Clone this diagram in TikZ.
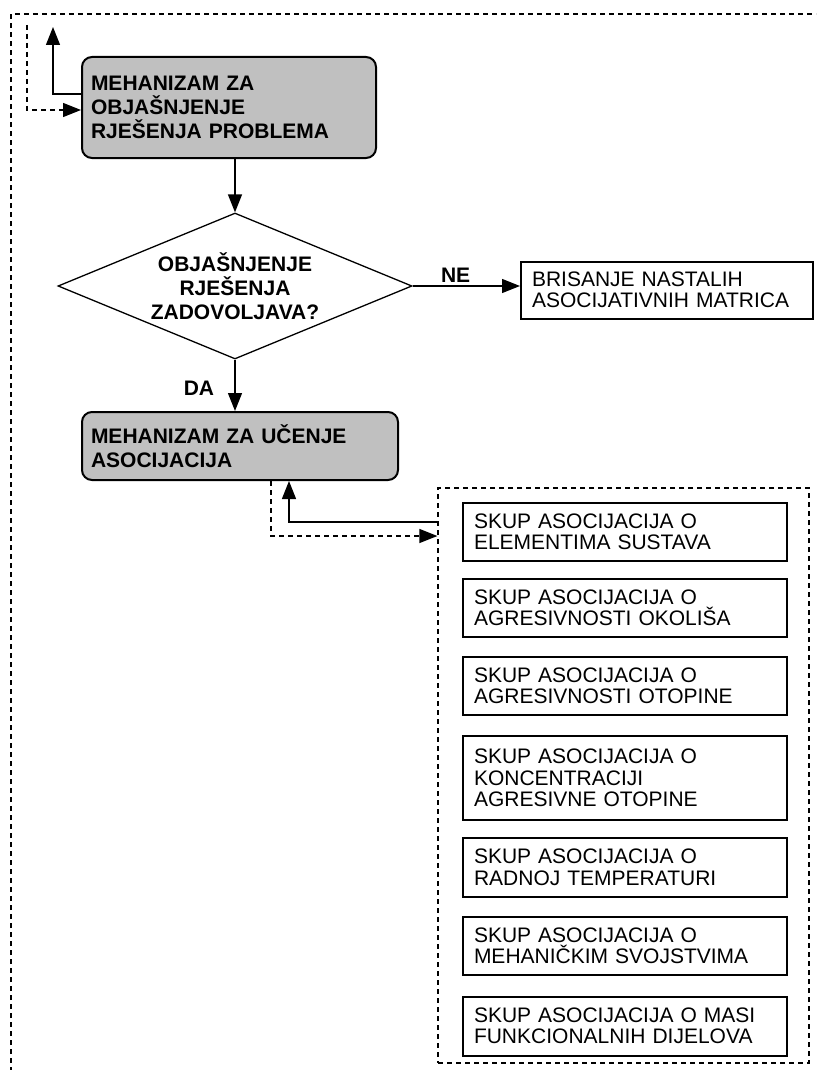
\documentclass[tikz,border=0pt]{standalone}
\usepackage{fontspec}
\setmainfont{Liberation Sans}
\usetikzlibrary{shapes.geometric,arrows.meta,calc}
\definecolor{boxgray}{RGB}{192,192,192}
\begin{document}
\begin{tikzpicture}[x=1pt,y=-1pt,
  bfont/.style={font=\fontsize{21}{24}\selectfont\bfseries},
  bfbox/.style={draw, line width=2pt, rounded corners=10pt, fill=boxgray, inner xsep=9pt, inner ysep=0pt, align=left, bfont},
  rgbox/.style={draw, line width=2pt, fill=white, inner xsep=11pt, inner ysep=0pt, align=left, font=\fontsize{21}{21.5}\selectfont},
  conn/.style={line width=1.3pt},
  arr/.style={conn, -{Triangle[length=18pt,width=14pt]}},
  dsh/.style={line width=1.2pt, dash pattern=on 5pt off 4pt},
  dsharr/.style={dsh, -{Triangle[length=18pt,width=14pt]}},
  skup/.style={rgbox, text width=302pt, minimum width=324pt},
]
\useasboundingbox (0,0) rectangle (816,1070);
\clip (0,0) rectangle (816,1070);

% outer dashed frame
\draw[dsh] (11,1090) -- (11,14) -- (830,14);

% nodes
\node[bfbox, text width=276pt, minimum height=101pt] (box1) at (229,107.5)
  {MEHANIZAM ZA\\OBJAŠNJENJE\\RJEŠENJA PROBLEMA};
\node[draw, diamond, shape aspect=2.42, minimum width=354pt, minimum height=146pt,
  inner sep=0pt, line width=1.3pt, align=center, bfont] (dia) at (235,286)
  {OBJAŠNJENJE\\RJEŠENJA\\ZADOVOLJAVA?};
\node[rgbox, text width=270pt, minimum height=57pt] (bris) at (667,290)
  {BRISANJE NASTALIH\\ASOCIJATIVNIH MATRICA};
\node[bfbox, text width=298pt, minimum height=68pt] (box2) at (240,446)
  {MEHANIZAM ZA UČENJE\\ASOCIJACIJA};
\node[bfont] (da) at (199,388) {DA};

\node[draw, dsh, minimum width=371pt, minimum height=575pt, inner sep=0pt] (grp) at (623.5,775.5) {};
\node[skup, minimum height=58pt] (s1) at (625,532) {SKUP ASOCIJACIJA O\\ELEMENTIMA SUSTAVA};
\node[skup, minimum height=58pt] (s2) at (625,608) {SKUP ASOCIJACIJA O\\AGRESIVNOSTI OKOLIŠA};
\node[skup, minimum height=58pt] (s3) at (625,686) {SKUP ASOCIJACIJA O\\AGRESIVNOSTI OTOPINE};
\node[skup, minimum height=84pt] (s4) at (625,778) {SKUP ASOCIJACIJA O\\KONCENTRACIJI\\AGRESIVNE OTOPINE};
\node[skup, minimum height=59pt] (s5) at (625,867.5) {SKUP ASOCIJACIJA O\\RADNOJ TEMPERATURI};
\node[skup, minimum height=58pt] (s6) at (625,946) {SKUP ASOCIJACIJA O\\MEHANIČKIM SVOJSTVIMA};
\node[skup, minimum height=59pt] (s7) at (625,1026) {SKUP ASOCIJACIJA O MASI\\FUNKCIONALNIH DIJELOVA};

% connectors
\draw[arr] (box1.south -| dia.north) -- (dia.north);
\draw[arr] (dia.east) -- node[pos=0.4, above, bfont] (ne) {NE} (bris.west |- dia.east);
\draw[arr] (dia.south) -- (dia.south |- box2.north);

% top-left loop
\coordinate (k1) at (53,94);
\coordinate (t1) at (53,27);
\draw[arr] (box1.west |- k1) -- (k1) -- (t1);
\coordinate (t2) at (27,25);
\coordinate (k2) at (27,110);
\draw[dsharr] (t2) -- (k2) -- (box1.west |- k2);

% box2 <-> group
\coordinate (c1) at (289,522);
\draw[arr] (grp.west |- c1) -- (c1) -- (c1 |- box2.south);
\coordinate (c2) at (271,536);
\draw[dsharr] (box2.south -| c2) -- (c2) -- (grp.west |- c2);
\end{tikzpicture}
\end{document}
